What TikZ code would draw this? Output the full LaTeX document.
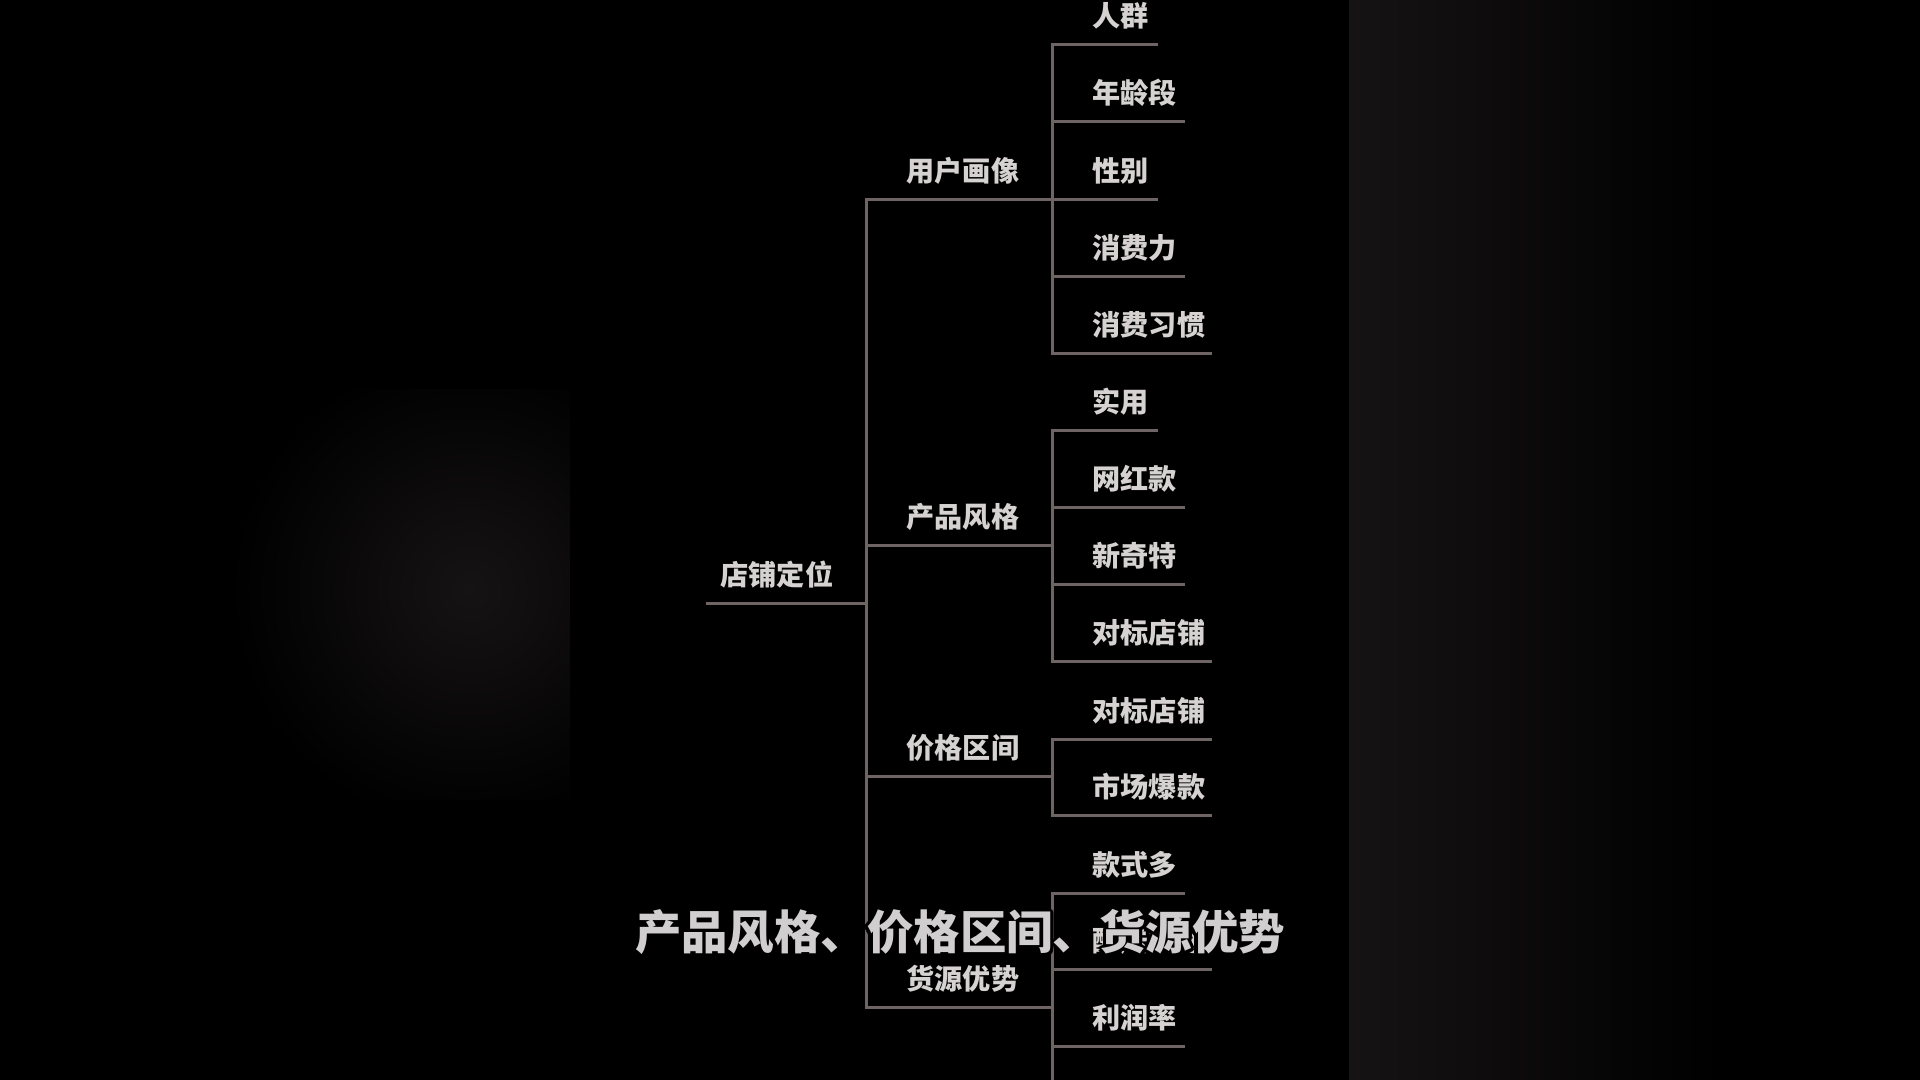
\documentclass[tikz,border=0pt]{standalone}
\usepackage{fontspec}
\usepackage{contour}
\usepackage{tikz}
\usetikzlibrary{positioning}
\newfontfamily\cjk{Noto Sans CJK SC}
\definecolor{linegray}{RGB}{110,100,100}
\definecolor{textgray}{RGB}{214,210,210}
\definecolor{subwhite}{RGB}{208,206,206}
\definecolor{panelgray}{RGB}{22,19,20}
\contourlength{0.9pt}
\contournumber{12}
\tikzset{
  leaf/.style={anchor=west, inner sep=0pt, text=textgray, font=\cjk\bfseries\fontsize{8pt}{9pt}\selectfont},
  branch/.style={draw=linegray, line width=0.85pt},
  caption/.style={inner sep=0pt, text=subwhite, font=\cjk\bfseries\fontsize{13.2pt}{15pt}\selectfont}
}

\begin{document}
\begin{tikzpicture}[x=0.01cm,y=-0.01cm]
    \fill[black] (0,0) rectangle (1920,1080);
    \shade[left color=panelgray, right color=black] (1349,0) rectangle (1720,1080);
    \begin{scope}
      \clip (230,390) rectangle (570,800);
      \shade[inner color=panelgray, outer color=black] (230,350) rectangle (710,830);
    \end{scope}
    \useasboundingbox (0,0) rectangle (1920,1080);

    \node[leaf] (shop) at (720,575) {店铺定位};
    \coordinate (shop-l) at (706,604);
    \coordinate (shop-r) at (866,604);
    \draw[branch] (shop-l) -- (shop-r);

    \node[leaf] (user) at (906,171) {用户画像};
    \coordinate (user-r) at (1052,200);
    \node[leaf] (style) at (906,517) {产品风格};
    \coordinate (style-r) at (1052,546);
    \node[leaf] (price) at (906,748) {价格区间};
    \coordinate (price-r) at (1052,777);
    \node[leaf] (supply) at (906,979) {货源优势};
    \coordinate (supply-r) at (1052,1008);
    \foreach \grp in {user,style,price,supply}
      \draw[branch] (shop-r) |- (\grp-r);

    \foreach \name/\txt/\y/\e in {crowd/人群/45/1158, age/年龄段/122/1185, gender/性别/200/1158, power/消费力/277/1185, habit/消费习惯/354/1212}{
      \node[leaf] (\name) at (1092,\y-29) {\txt};
      \coordinate (\name-r) at (\e,\y);
      \draw[branch] (user-r) |- (\name-r);
    }
    \foreach \name/\txt/\y/\e in {useful/实用/431/1158, hot/网红款/508/1185, novel/新奇特/585/1185, bench/对标店铺/662/1212}{
      \node[leaf] (\name) at (1092,\y-29) {\txt};
      \coordinate (\name-r) at (\e,\y);
      \draw[branch] (style-r) |- (\name-r);
    }
    \foreach \name/\txt/\y/\e in {rival/对标店铺/740/1212, viral/市场爆款/816/1212}{
      \node[leaf] (\name) at (1092,\y-29) {\txt};
      \coordinate (\name-r) at (\e,\y);
      \draw[branch] (price-r) |- (\name-r);
    }
    \foreach \name/\txt/\y/\e in {styles/款式多/894/1185, ship/配送快速/970/1212, margin/利润率/1047/1185}{
      \node[leaf] (\name) at (1092,\y-29) {\txt};
      \coordinate (\name-r) at (\e,\y);
      \draw[branch] (supply-r) |- (\name-r);
    }
    \coordinate (supply-end) at (1052,1080);
    \draw[branch] (supply-r) -- (supply-end);

    \node[caption] (subtitle) at (960,934) {\contour{black}{产品风格、价格区间、货源优势}};
\end{tikzpicture}
\end{document}
